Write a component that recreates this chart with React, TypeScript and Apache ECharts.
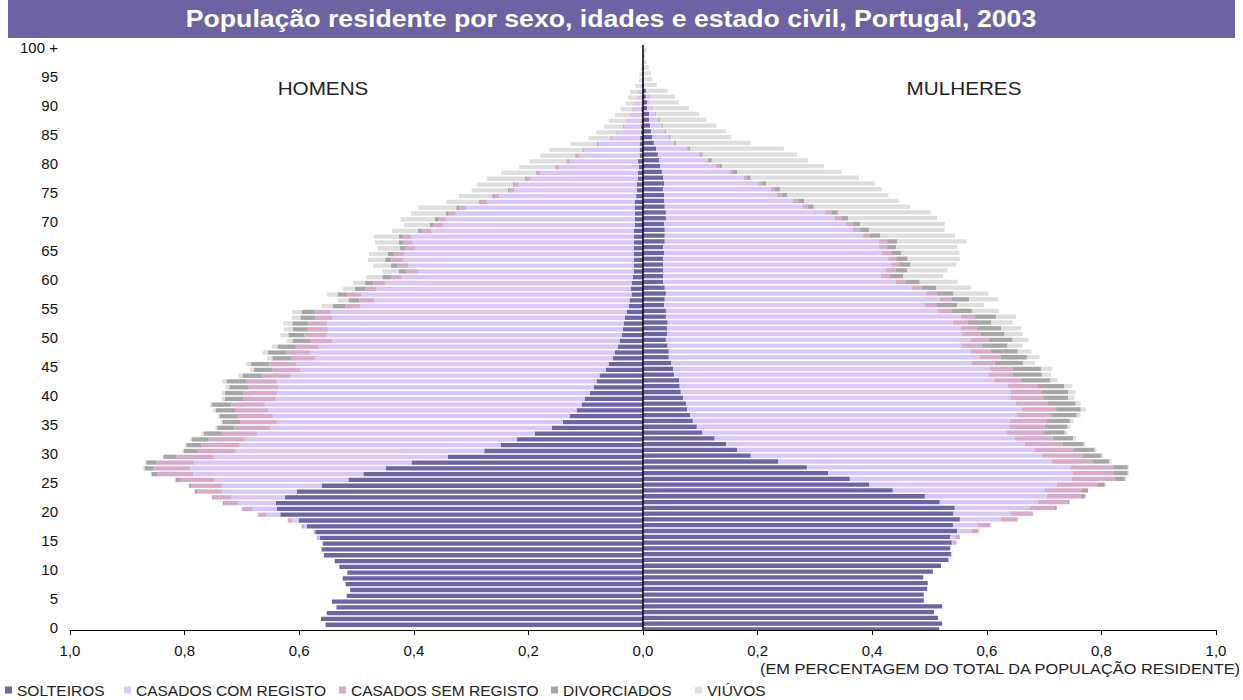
import React, { useEffect, useRef } from "react";
import * as echarts from "echarts";

// Ages 0..100+ (index = age)
const ages: string[] = Array.from({ length: 101 }, (_, i) => (i === 100 ? "100 +" : String(i)));

const seriesNames = ["SOLTEIROS", "CASADOS COM REGISTO", "CASADOS SEM REGISTO", "DIVORCIADOS", "VIÚVOS"];
const xTicks = [-1, -0.8, -0.6, -0.4, -0.2, 0, 0.2, 0.4, 0.6, 0.8, 1];

// HOMENS (% of total resident population)
const menSolteiros = [
  .554, .562, .552, .535, .543, .517, .511, .519, .524, .516,
  .530, .538, .557, .561, .559, .564, .572, .587, .601, .633,
  .639, .641, .625, .604, .561, .514, .488, .449, .404, .341,
  .277, .248, .220, .189, .159, .140, .128, .116, .107, .102,
  .093, .086, .081, .076, .065, .060, .053, .049, .044, .041,
  .037, .035, .034, .032, .028, .025, .023, .020, .021, .020,
  .018, .016, .016, .016, .016, .016, .016, .016, .016, .014,
  .014, .014, .014, .014, .012, .011, .011, .009, .009, .007,
  .009, .006, .006, .006, .005, .004, .004, .003, .003, .003,
  .002, .002, .002, .002, .001, .001, .0005, 0, 0, 0,
  0];
const menCasadosCom = [
  0, 0, 0, 0, 0, 0, 0, 0, 0, 0,
  0, 0, 0, .001, .001, .001, .001, .004, .011, .024,
  .042, .065, .093, .130, .174, .234, .297, .341, .379, .409,
  .434, .456, .475, .484, .491, .499, .518, .538, .553, .539,
  .545, .550, .558, .539, .533, .545, .519, .531, .522, .501,
  .515, .515, .517, .510, .517, .468, .446, .471, .444, .430,
  .403, .377, .394, .403, .400, .382, .386, .388, .354, .335,
  .330, .313, .295, .258, .239, .213, .206, .187, .170, .139,
  .118, .106, .096, .070, .048, .042, .029, .026, .022, .015,
  .012, .010, .009, .004, .002, .001, .0005, 0, 0, 0,
  0];
const menCasadosSem = [
  0, 0, 0, 0, 0, 0, 0, 0, 0, 0,
  0, 0, 0, 0, 0, .004, .002, .005, .008, .014,
  .018, .025, .031, .043, .053, .060, .063, .064, .066, .064,
  .066, .067, .063, .062, .063, .063, .061, .057, .058, .056,
  .059, .053, .053, .049, .049, .047, .041, .043, .040, .039,
  .039, .035, .033, .030, .028, .026, .026, .025, .019, .021,
  .019, .020, .019, .020, .018, .017, .017, .015, .016, .016,
  .013, .012, .012, .011, .009, .009, .007, .007, .007, .007,
  .006, .006, .003, .004, .004, .001, .002, .001, 0, .001,
  0, 0, 0, 0, 0, 0, 0, 0, 0, 0,
  0];
const menDivorciados = [
  0, 0, 0, 0, 0, 0, 0, 0, 0, 0,
  0, 0, 0, 0, 0, 0, 0, 0, 0, .001,
  .001, .002, .003, .005, .004, .008, .010, .016, .018, .023,
  .025, .026, .029, .032, .030, .032, .032, .035, .035, .033,
  .033, .033, .035, .035, .032, .032, .034, .032, .032, .030,
  .028, .026, .028, .026, .023, .022, .019, .017, .019, .014,
  .015, .013, .011, .011, .011, .009, .007, .007, .007, .007,
  .006, .005, .005, .003, .003, .003, .003, .003, .001, .001,
  .001, .001, .001, .001, .001, .0005, .0005, 0, 0, 0,
  .001, 0, 0, 0, 0, 0, 0, 0, 0, 0,
  0];
const menViuvos = [
  0, 0, 0, 0, 0, 0, 0, 0, 0, 0,
  0, 0, 0, 0, 0, 0, 0, 0, 0, 0,
  .0005, .0005, .001, .001, .001, .001, .001, .002, .001, .001,
  .002, .002, .003, .004, .003, .003, .003, .004, .003, .005,
  .005, .007, .007, .007, .007, .009, .009, .009, .010, .011,
  .014, .016, .016, .015, .016, .020, .019, .019, .021, .021,
  .028, .029, .031, .030, .033, .039, .042, .044, .045, .045,
  .060, .061, .066, .058, .058, .063, .063, .067, .061, .062,
  .064, .060, .057, .045, .037, .034, .033, .030, .024, .020,
  .016, .014, .012, .007, .004, .004, .003, .002, .002, .001,
  .002];

// MULHERES
const womSolteiras = [
  .517, .522, .515, .508, .522, .490, .490, .496, .497, .489,
  .506, .520, .533, .538, .536, .539, .536, .548, .541, .553,
  .542, .544, .518, .492, .436, .395, .361, .323, .286, .236,
  .188, .164, .145, .125, .103, .094, .087, .082, .077, .075,
  .070, .066, .064, .063, .054, .053, .049, .045, .045, .043,
  .040, .042, .042, .043, .040, .040, .037, .038, .040, .038,
  .035, .035, .035, .035, .035, .037, .035, .038, .038, .038,
  .037, .040, .040, .038, .037, .037, .035, .037, .035, .033,
  .030, .028, .026, .023, .019, .016, .014, .0125, .0105, .0105,
  .007, .007, .005, .005, .002, .001, .001, .001, 0, 0,
  0];
const womCasadasCom = [
  0, 0, 0, 0, 0, 0, 0, 0, 0, 0,
  0, 0, .0005, .001, .001, .001, .008, .025, .043, .071,
  .100, .131, .171, .213, .265, .327, .387, .427, .460, .478,
  .508, .520, .521, .524, .531, .545, .553, .571, .584, .575,
  .571, .576, .573, .550, .550, .552, .525, .543, .527, .513,
  .531, .515, .513, .498, .515, .475, .455, .480, .454, .431,
  .406, .380, .389, .398, .393, .380, .377, .374, .346, .328,
  .317, .295, .278, .240, .225, .197, .188, .164, .141, .119,
  .097, .084, .072, .054, .035, .029, .023, .019, .016, .0105,
  .009, .0055, .0055, .003, .002, .001, .001, 0, 0, 0,
  0];
const womCasadasSem = [
  0, 0, 0, 0, 0, 0, 0, 0, 0, 0,
  0, 0, 0, 0, 0, .007, .009, .013, .022, .029,
  .038, .044, .052, .059, .065, .072, .075, .072, .076, .070,
  .072, .068, .066, .066, .066, .062, .065, .061, .060, .056,
  .056, .053, .051, .047, .041, .041, .040, .036, .035, .035,
  .033, .032, .028, .026, .024, .023, .021, .021, .018, .017,
  .018, .016, .017, .014, .014, .016, .014, .014, .012, .013,
  .012, .011, .011, .010, .009, .009, .007, .007, .005, .005,
  .006, .003, .003, .002, .002, 0, .001, .001, .001, .002,
  .001, 0, 0, 0, 0, 0, 0, 0, 0, 0,
  0];
const womDivorciadas = [
  0, 0, 0, 0, 0, 0, 0, 0, 0, 0,
  0, 0, 0, 0, 0, 0, 0, 0, 0, .001,
  .001, .003, .003, .008, .011, .012, .018, .024, .024, .030,
  .032, .036, .037, .036, .036, .040, .040, .043, .043, .049,
  .045, .047, .047, .051, .051, .049, .049, .046, .047, .045,
  .041, .041, .042, .041, .037, .036, .035, .030, .030, .026,
  .024, .023, .020, .020, .020, .018, .016, .018, .018, .016,
  .013, .012, .011, .010, .010, .009, .009, .007, .007, .007,
  .005, .005, .003, .003, .002, .002, .002, .002, .002, 0,
  .001, 0, .0015, 0, 0, 0, 0, 0, 0, 0,
  0];
const womViuvas = [
  0, 0, 0, 0, 0, 0, 0, 0, 0, 0,
  0, 0, 0, 0, 0, 0, 0, 0, 0, 0,
  0, 0, 0, 0, 0, .001, .002, .002, .002, .004,
  .003, .003, .003, .005, .005, .005, .007, .007, .009, .009,
  .011, .013, .014, .013, .016, .019, .021, .022, .024, .026,
  .028, .032, .035, .037, .035, .047, .047, .051, .061, .061,
  .066, .070, .070, .080, .091, .101, .106, .120, .131, .131,
  .148, .155, .162, .168, .166, .176, .178, .190, .189, .183,
  .178, .168, .165, .164, .130, .107, .105, .094, .081, .075,
  .062, .050, .044, .035, .020, .014, .012, .009, .006, .004,
  .0066];

const colors = ["#6d64a2", "#dac7fa", "#d7a9cc", "#a6a6a6", "#dedede"];
const FONT = "'Liberation Sans', Arial, sans-serif";

export default function App() {
  const ref = useRef<HTMLDivElement>(null);

  useEffect(() => {
    if (!ref.current) return;
    const chart = echarts.init(ref.current, undefined, { renderer: "svg" });
    const menData = [menSolteiros, menCasadosCom, menCasadosSem, menDivorciados, menViuvos];
    const womData = [womSolteiras, womCasadasCom, womCasadasSem, womDivorciadas, womViuvas];

    const series: any[] = [];
    seriesNames.forEach((name, k) => {
      series.push({
        name,
        type: "bar",
        stack: "men",
        barWidth: "74%",
        itemStyle: { color: colors[k] },
        data: menData[k].map((v) => -v),
        ...(k === 0
          ? {
              markLine: {
                silent: true,
                symbol: "none",
                label: { show: false },
                lineStyle: { color: "#000", width: 1.5, type: "solid" },
                data: [{ xAxis: 0 }],
              },
            }
          : {}),
      });
      series.push({
        name,
        type: "bar",
        stack: "women",
        barWidth: "74%",
        itemStyle: { color: colors[k] },
        data: womData[k],
      });
    });

    const legendLefts = [5, 124, 339, 551, 695];

    chart.setOption({
      animation: false,
      grid: { left: 70, right: 27, top: 45, bottom: 70, containLabel: false },
      xAxis: {
        type: "value",
        min: -1,
        max: 1,
        interval: 0.2,
        axisLine: { show: true, lineStyle: { color: "#000", width: 1 } },
        axisTick: { show: true, length: 5, lineStyle: { color: "#000" } },
        splitLine: { show: false },
        axisLabel: {
          margin: 13,
          fontSize: 15,
          color: "#111",
          fontFamily: FONT,
          formatter: (v: number) => {
            const t = xTicks.reduce((a, b) => (Math.abs(b - v) < Math.abs(a - v) ? b : a));
            return Math.abs(t).toFixed(1).replace(".", ",");
          },
        },
      },
      yAxis: {
        type: "category",
        data: ages,
        axisLine: { show: false },
        axisTick: { show: false },
        axisLabel: {
          interval: (i: number) => i % 5 === 0,
          margin: 12,
          fontSize: 15,
          color: "#111",
          fontFamily: FONT,
        },
      },
      legend: seriesNames.map((n, i) => ({
        data: [n],
        left: legendLefts[i],
        top: 682,
        padding: 0,
        itemWidth: 7,
        itemHeight: 7,
        icon: "rect",
        selectedMode: false,
        textStyle: { fontSize: 15.5, color: "#222", fontFamily: FONT },
      })),
      graphic: [
        { type: "rect", shape: { x: 8, y: 0, width: 1227, height: 38 }, style: { fill: "#6e63a2" }, z: 0 },
        {
          type: "text",
          x: 611,
          y: 19,
          scaleX: 1.16,
          style: {
            text: "População residente por sexo, idades e estado civil, Portugal, 2003",
            fill: "#fff",
            font: `bold 23px ${FONT}`,
            textAlign: "center",
            textVerticalAlign: "middle",
          },
        },
        {
          type: "text",
          x: 323,
          y: 89,
          scaleX: 1.15,
          style: { text: "HOMENS", fill: "#222", font: `18px ${FONT}`, textAlign: "center", textVerticalAlign: "middle" },
        },
        {
          type: "text",
          x: 964,
          y: 89,
          scaleX: 1.15,
          style: { text: "MULHERES", fill: "#222", font: `18px ${FONT}`, textAlign: "center", textVerticalAlign: "middle" },
        },
        {
          type: "text",
          x: 1240,
          y: 669,
          scaleX: 1.17,
          style: {
            text: "(EM PERCENTAGEM DO TOTAL DA POPULAÇÃO RESIDENTE)",
            fill: "#222",
            font: `14px ${FONT}`,
            textAlign: "right",
            textVerticalAlign: "middle",
          },
        },
      ],
      series,
    });
    return () => chart.dispose();
  }, []);

  return <div ref={ref} style={{ position: "absolute", left: 0, top: 0, width: 1243, height: 700 }} />;
}
